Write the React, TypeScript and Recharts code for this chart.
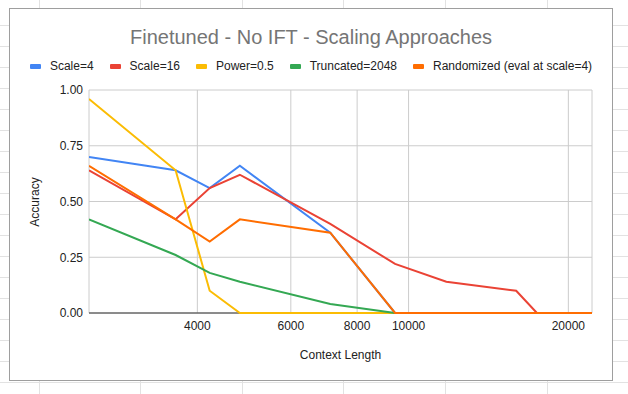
import { LineChart, Line, XAxis, YAxis, CartesianGrid } from 'recharts';

const contextLengths = [2500, 3640, 4220, 4810, 7120, 9430, 11780, 15950, 17450, 22160];
const scale4 = [0.7, 0.64, 0.56, 0.66, 0.36, 0, 0, 0, 0, 0];
const scale16 = [0.64, 0.42, 0.56, 0.62, 0.4, 0.22, 0.14, 0.1, 0, 0];
const power05 = [0.96, 0.64, 0.1, 0, 0, 0, 0, 0, 0, 0];
const truncated2048 = [0.42, 0.26, 0.18, 0.14, 0.04, 0, 0, 0, 0, 0];
const randomized = [0.66, 0.42, 0.32, 0.42, 0.36, 0, 0, 0, 0, 0];

const xTicks = [4000, 6000, 8000, 10000, 20000];
const yTicks = [0, 0.25, 0.5, 0.75, 1];

const SERIES = [
  { key: 'scale4', name: 'Scale=4', color: '#4285f4', values: scale4 },
  { key: 'scale16', name: 'Scale=16', color: '#ea4335', values: scale16 },
  { key: 'power05', name: 'Power=0.5', color: '#fbbc04', values: power05 },
  { key: 'truncated', name: 'Truncated=2048', color: '#34a853', values: truncated2048 },
  { key: 'randomized', name: 'Randomized (eval at scale=4)', color: '#ff6d01', values: randomized },
];

const data = contextLengths.map((len, i) => {
  const row: Record<string, number> = { len };
  SERIES.forEach(s => { row[s.key] = s.values[i]; });
  return row;
});

const FONT = 'Arial, "Liberation Sans", sans-serif';
const SHEET_LINE = '#e2e2e2';

// spreadsheet cells peeking out around the chart
function SheetBackground() {
  const rows = Array.from({ length: 18 }, (_, i) => 25 + i * 21);
  const cols = Array.from({ length: 6 }, (_, i) => 38.5 + i * 101.6);
  return (
    <>
      {rows.map(y => (
        <div key={`r${y}`} style={{ position: 'absolute', left: 0, top: y, width: 628, height: 1, background: SHEET_LINE }} />
      ))}
      {cols.map(x => (
        <div key={`c${x}`} style={{ position: 'absolute', left: x, top: 0, width: 1, height: 394, background: SHEET_LINE }} />
      ))}
    </>
  );
}

export default function App() {
  return (
    <div style={{ position: 'absolute', left: 0, top: 0, width: 628, height: 394, background: '#fff', fontFamily: FONT, overflow: 'hidden' }}>
      <SheetBackground />
      <div
        style={{
          position: 'absolute', left: 9, top: 8, width: 604, height: 373,
          boxSizing: 'border-box', border: '1px solid #9e9e9e', background: '#fff',
        }}
      >
        <LineChart
          width={602}
          height={371}
          data={data}
          margin={{ top: 81, right: 20, bottom: 37, left: 0 }}
          style={{ fontFamily: FONT }}
        >
          <CartesianGrid stroke="#cccccc" strokeWidth={1} />
          {/* dark baseline kept under the series, like the sheet draws it */}
          <CartesianGrid vertical={false} horizontalValues={[0]} stroke="#333" strokeWidth={1} />
          <XAxis
            dataKey="len"
            type="number"
            scale="log"
            domain={[2500, 22160]}
            ticks={xTicks}
            interval={0}
            allowDataOverflow
            height={30}
            tickFormatter={(v) => String(v)}
            tick={{ fontSize: 12, fill: '#222' }}
            tickLine={false}
            axisLine={false}
          />
          <YAxis
            type="number"
            domain={[0, 1]}
            ticks={yTicks}
            width={79}
            tickSize={4}
            tickFormatter={(v) => v.toFixed(2)}
            tick={{ fontSize: 12, fill: '#222' }}
            tickLine={false}
            axisLine={false}
          />
          {SERIES.map(s => (
            <Line
              key={s.key}
              type="linear"
              dataKey={s.key}
              name={s.name}
              stroke={s.color}
              strokeWidth={2}
              dot={false}
              activeDot={false}
              isAnimationActive={false}
            />
          ))}
        </LineChart>
      </div>

      <div style={{ position: 'absolute', left: 9, width: 604, top: 26.5, textAlign: 'center', fontSize: 20, lineHeight: '20px', color: '#757575' }}>
        Finetuned - No IFT - Scaling Approaches
      </div>

      <div style={{ position: 'absolute', left: 9, width: 604, top: 60, display: 'flex', justifyContent: 'center', gap: 16, fontSize: 12, lineHeight: '12px', color: '#222' }}>
        {SERIES.map(s => (
          <div key={s.key} style={{ display: 'flex', alignItems: 'center', gap: 9, whiteSpace: 'nowrap' }}>
            <span style={{ display: 'inline-block', width: 11, height: 5, borderRadius: 1, background: s.color }} />
            <span>{s.name}</span>
          </div>
        ))}
      </div>

      <div style={{ position: 'absolute', left: 35, top: 202, transform: 'translate(-50%, -50%) rotate(-90deg)', fontSize: 12, lineHeight: '12px', color: '#222', whiteSpace: 'nowrap' }}>
        Accuracy
      </div>
      <div style={{ position: 'absolute', left: 340.5, top: 354.5, transform: 'translate(-50%, -50%)', fontSize: 12, lineHeight: '12px', color: '#222', whiteSpace: 'nowrap' }}>
        Context Length
      </div>
    </div>
  );
}
